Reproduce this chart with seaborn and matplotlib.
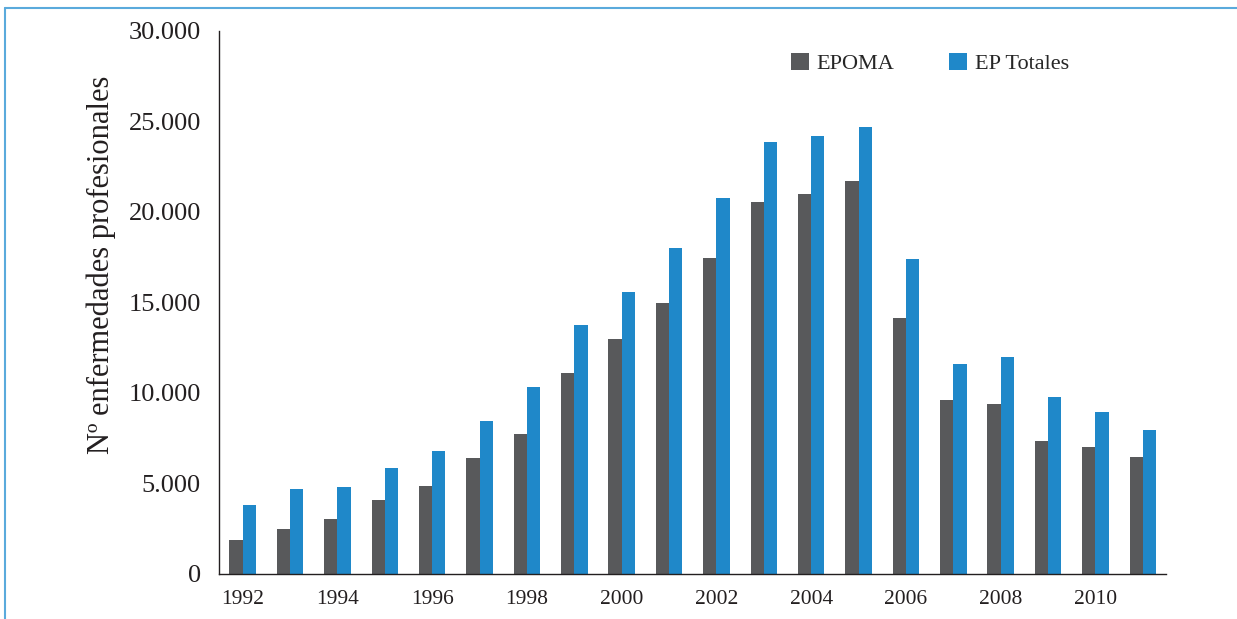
import pandas as pd
import numpy as np
import matplotlib
matplotlib.use("Agg")
import matplotlib.pyplot as plt
import seaborn as sns
from matplotlib.ticker import FuncFormatter
from matplotlib.lines import Line2D

years = list(range(1992, 2012))
epoma = [1880, 2490, 3050, 4100, 4870, 6420, 7750, 11070, 12960, 14950,
         17440, 20540, 20990, 21700, 14120, 9580, 9360, 7360, 7030, 6480]
ep_totales = [3820, 4710, 4820, 5870, 6810, 8420, 10300, 13730, 15560, 18000,
              20760, 23870, 24200, 24700, 17390, 11570, 11960, 9750, 8920, 7970]
series_names = ["EPOMA", "EP Totales"]
colores = ["#58595b", "#1f88c9"]

df = pd.DataFrame({"Año": years * 2,
                   "Valor": epoma + ep_totales,
                   "Serie": [series_names[0]] * len(years) + [series_names[1]] * len(years)})

sns.set_style("white")
plt.rcParams["font.family"] = ["Liberation Serif", "DejaVu Serif"]

fig = plt.figure(figsize=(12.37, 6.19), dpi=100)
ax = fig.add_axes([0.177, 0.073, 0.766, 0.877])
sns.barplot(data=df, x="Año", y="Valor", hue="Serie", palette=colores,
            width=0.56, saturation=1, linewidth=0, ax=ax, legend=True)

ax.set_ylim(0, 30000)
ax.set_xlim(-0.5, 19.5)
ax.set_yticks(np.arange(0, 30001, 5000))
ax.yaxis.set_major_formatter(FuncFormatter(lambda v, p: f"{int(v):,}".replace(",", ".")))
ax.set_xticks(range(0, 20, 2))
ax.set_xticklabels([str(y) for y in years[::2]])
ax.tick_params(axis="y", labelsize=19, length=0, pad=13, colors="#231f20")
ax.tick_params(axis="x", labelsize=15.5, length=0, pad=12, colors="#231f20")
ax.set_xlabel("")
ax.set_ylabel("Nº enfermedades profesionales", fontsize=22, color="#231f20")
ax.yaxis.set_label_coords(-0.109, 0.569)

for s in ["top", "right"]:
    ax.spines[s].set_visible(False)
ax.spines["left"].set_color("#231f20")
ax.spines["bottom"].set_color("#231f20")
ax.spines["left"].set_linewidth(1.0)
ax.spines["bottom"].set_linewidth(1.0)

leg = ax.legend(loc="center left", bbox_to_anchor=(0.604, 0.94), ncol=2, frameon=False,
                fontsize=16, handlelength=0.8, handleheight=0.8, handletextpad=0.35,
                columnspacing=2.45, borderaxespad=0, borderpad=0)

# marco azul claro de la figura
fig.add_artist(Line2D([5 / 1237, 5 / 1237], [0, 1 - 8 / 619], color="#5aaadc", lw=1.5))
fig.add_artist(Line2D([5 / 1237, 1], [1 - 8 / 619, 1 - 8 / 619], color="#5aaadc", lw=1.5))

fig.savefig("out.png", dpi=100)
